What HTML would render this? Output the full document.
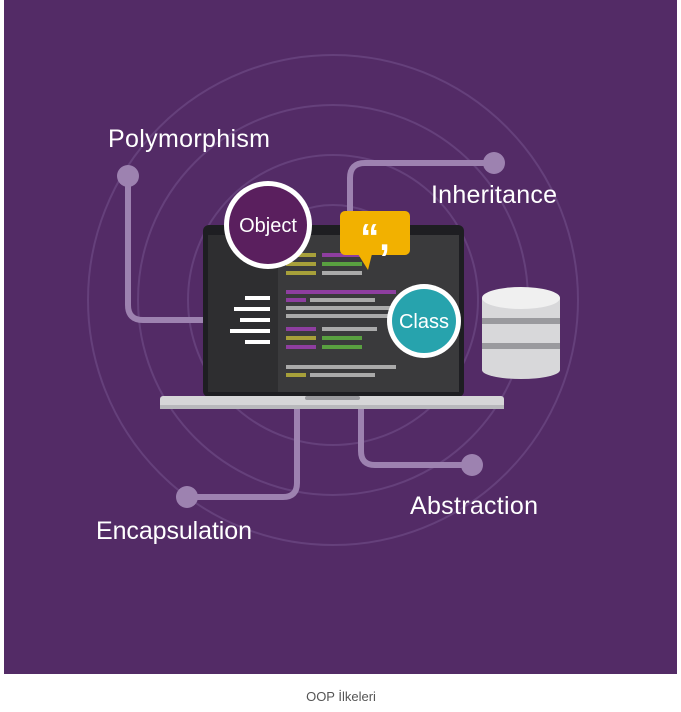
<!DOCTYPE html>
<html><head><meta charset="utf-8"><style>
html,body{margin:0;padding:0;background:#fff;width:681px;height:712px;overflow:hidden}
svg{display:block}
text{font-family:"Liberation Sans","DejaVu Sans",sans-serif}
</style></head><body>
<svg width="681" height="712" viewBox="0 0 681 712">
<rect x="4" y="0" width="673" height="674" fill="#532b66"/>
<g fill="none" stroke="#65407b" stroke-width="2">
<circle cx="333" cy="300" r="95"/><circle cx="333" cy="300" r="145"/><circle cx="333" cy="300" r="195"/><circle cx="333" cy="300" r="245"/>
</g>
<g fill="none" stroke="#9d82b0" stroke-width="6" stroke-linejoin="round">
<path d="M128 176 V305 Q128 320 143 320 H205"/>
<path d="M494 163 H365 Q350 163 350 178 V228"/>
<path d="M187 497 H283 Q297 497 297 483 V408"/>
<path d="M472 465 H375 Q361 465 361 451 V408"/>
</g>
<g fill="#9d82b0"><circle cx="128" cy="176" r="11"/><circle cx="494" cy="163" r="11"/><circle cx="187" cy="497" r="11"/><circle cx="472" cy="465" r="11"/></g>
<g fill="#fff" font-size="25">
<text x="108" y="147" textLength="162">Polymorphism</text>
<text x="431" y="203" textLength="126">Inheritance</text>
<text x="96" y="539" textLength="156">Encapsulation</text>
<text x="410" y="514" textLength="128">Abstraction</text>
</g>
<g>
<rect x="203" y="225" width="261" height="172" rx="6" fill="#1e1e22"/>
<rect x="208" y="235" width="251" height="157" fill="#3a3a3c"/>
<rect x="208" y="235" width="70" height="157" fill="#2e2e30"/>
<g fill="#fff"><rect x="245" y="296" width="25" height="4"/><rect x="234" y="307" width="36" height="4"/><rect x="240" y="318" width="30" height="4"/><rect x="230" y="329" width="40" height="4"/><rect x="245" y="340" width="25" height="4"/></g>
<g>
<rect x="286" y="253" width="30" height="4" fill="#a7a03a"/><rect x="322" y="253" width="40" height="4" fill="#8e3ea0"/>
<rect x="286" y="262" width="30" height="4" fill="#a7a03a"/><rect x="322" y="262" width="40" height="4" fill="#59a040"/>
<rect x="286" y="271" width="30" height="4" fill="#a7a03a"/><rect x="322" y="271" width="40" height="4" fill="#aaa"/>
<rect x="286" y="290" width="110" height="4" fill="#8e3ea0"/>
<rect x="286" y="298" width="20" height="4" fill="#8e3ea0"/><rect x="310" y="298" width="65" height="4" fill="#aaa"/>
<rect x="286" y="306" width="105" height="4" fill="#aaa"/><rect x="286" y="314" width="105" height="4" fill="#aaa"/>
<rect x="286" y="327" width="30" height="4" fill="#8e3ea0"/><rect x="322" y="327" width="55" height="4" fill="#aaa"/>
<rect x="286" y="336" width="30" height="4" fill="#a7a03a"/><rect x="322" y="336" width="40" height="4" fill="#59a040"/>
<rect x="286" y="345" width="30" height="4" fill="#8e3ea0"/><rect x="322" y="345" width="40" height="4" fill="#59a040"/>
<rect x="286" y="365" width="110" height="4" fill="#aaa"/>
<rect x="286" y="373" width="20" height="4" fill="#a7a03a"/><rect x="310" y="373" width="65" height="4" fill="#aaa"/>
</g>
<rect x="160" y="396" width="344" height="13" rx="3" fill="#d6d6d8"/>
<rect x="160" y="405" width="344" height="4" fill="#b8b8bc"/>
<rect x="305" y="396" width="55" height="4" rx="2" fill="#9a9a9e"/>
</g>
<g>
<circle cx="268" cy="225" r="44" fill="#fff"/><circle cx="268" cy="225" r="39" fill="#5a1f5e"/>
<text x="268" y="232" text-anchor="middle" fill="#fff" font-size="20">Object</text>
</g>
<g>
<rect x="340" y="211" width="70" height="44" rx="5" fill="#f2b100"/>
<path d="M358 254 L368 270 L372 254Z" fill="#f2b100"/>
<text x="375" y="250" text-anchor="middle" fill="#fff" font-size="38" font-weight="bold">“,</text>
</g>
<g>
<circle cx="424" cy="321" r="37" fill="#fff"/><circle cx="424" cy="321" r="32" fill="#27a3ad"/>
<text x="424" y="328" text-anchor="middle" fill="#fff" font-size="20">Class</text>
</g>
<g>
<rect x="482" y="298" width="78" height="72" fill="#d8d8da"/>
<ellipse cx="521" cy="370" rx="39" ry="9" fill="#d8d8da"/>
<rect x="482" y="318" width="78" height="6" fill="#9a9a9e"/>
<rect x="482" y="343" width="78" height="6" fill="#9a9a9e"/>
<ellipse cx="521" cy="298" rx="39" ry="11" fill="#f0f0f0"/>
</g>
<text x="341" y="701" text-anchor="middle" fill="#555" font-size="13">OOP İlkeleri</text>
</svg>
</body></html>
